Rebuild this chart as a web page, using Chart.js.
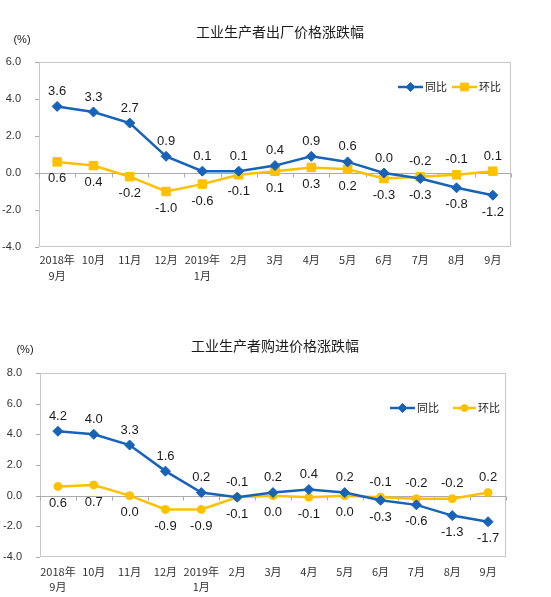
<!DOCTYPE html>
<html>
<head>
<meta charset="utf-8">
<script src="https://cdn.jsdelivr.net/npm/chart.js@4"></script>
<style>
  body { margin: 0; background: #fff; }
  canvas { display: block; }
</style>
</head>
<body>
<canvas id="chartOut" width="551" height="300" style="width:551px;height:300px"></canvas>
<canvas id="chartIn" width="551" height="297" style="width:551px;height:297px"></canvas>
<script>
const categories = [['2018年', '9月'], '10月', '11月', '12月', ['2019年', '1月'], '2月', '3月', '4月', '5月', '6月', '7月', '8月', '9月'];
const seriesNames = ['同比', '环比'];

// 出厂价格
const outYoy = [3.6, 3.3, 2.7, 0.9, 0.1, 0.1, 0.4, 0.9, 0.6, 0.0, -0.3, -0.8, -1.2];
const outMom = [0.6, 0.4, -0.2, -1.0, -0.6, -0.1, 0.1, 0.3, 0.2, -0.3, -0.2, -0.1, 0.1];

// 购进价格
const inYoy = [4.2, 4.0, 3.3, 1.6, 0.2, -0.1, 0.2, 0.4, 0.2, -0.3, -0.6, -1.3, -1.7];
const inMom = [0.6, 0.7, 0.0, -0.9, -0.9, -0.1, 0.0, -0.1, 0.0, -0.1, -0.2, -0.2, 0.2];

const BLUE = '#1763B8';
const GOLD = '#FFC000';
const FONT = '"Liberation Sans", "Noto Sans CJK SC", sans-serif';
const CJK = '"Noto Sans CJK SC", sans-serif';

const decor = {
  id: 'decor',
  beforeDatasetsDraw(chart, args, o) {
    const { ctx, chartArea: a, scales: { x, y } } = chart;
    ctx.save();
    ctx.lineWidth = 1;
    ctx.strokeStyle = '#C8C8C8';
    ctx.strokeRect(a.left + 0.5, a.top + 0.5, a.right - a.left - 1, a.bottom - a.top - 1);

    // zero line + category ticks
    const y0 = Math.round(y.getPixelForValue(0)) + 0.5;
    ctx.strokeStyle = '#ABABAB';
    ctx.beginPath();
    ctx.moveTo(a.left, y0);
    ctx.lineTo(a.right, y0);
    const step = x.getPixelForValue(1) - x.getPixelForValue(0);
    for (let i = 0; i <= categories.length; i++) {
      const bx = Math.round(x.getPixelForValue(i) - step / 2) + 0.5;
      ctx.moveTo(bx, y0);
      ctx.lineTo(bx, y0 + 4);
    }
    // y ticks to the left
    y.ticks.forEach(t => {
      const py = Math.round(y.getPixelForValue(t.value)) + 0.5;
      ctx.moveTo(a.left - 4, py);
      ctx.lineTo(a.left, py);
    });
    ctx.stroke();
    ctx.restore();
  },
  afterDatasetsDraw(chart, args, o) {
    const { ctx } = chart;
    const [d0, d1] = chart.data.datasets;
    const m0 = chart.getDatasetMeta(0).data;
    const m1 = chart.getDatasetMeta(1).data;
    ctx.save();
    ctx.font = '13px ' + FONT;
    ctx.fillStyle = '#1a1a1a';
    ctx.textAlign = 'center';
    ctx.textBaseline = 'middle';
    d0.data.forEach((v, i) => {
      const w = d1.data[i];
      const blueUp = v >= w;
      ctx.fillText(v.toFixed(1), m0[i].x, m0[i].y + (blueUp ? -o.above : o.below));
      ctx.fillText(w.toFixed(1), m1[i].x, m1[i].y + (blueUp ? o.below : -o.above));
    });
    ctx.restore();
  },
  afterDraw(chart, args, o) {
    const { ctx } = chart;
    ctx.save();
    ctx.fillStyle = '#1a1a1a';
    ctx.textBaseline = 'middle';
    ctx.textAlign = 'center';
    ctx.font = '14px ' + CJK;
    ctx.fillText(o.title, o.titleX, o.titleY);
    ctx.font = '11px ' + FONT;
    ctx.fillText('(%)', o.unitX, o.unitY);

    // legend
    ctx.textAlign = 'left';
    ctx.font = '11px ' + CJK;
    chart.data.datasets.forEach((ds, k) => {
      const lg = o.legend[k];
      ctx.strokeStyle = ds.borderColor;
      ctx.fillStyle = ds.backgroundColor;
      ctx.lineWidth = 2.5;
      ctx.beginPath();
      ctx.moveTo(lg.x0, o.legendY);
      ctx.lineTo(lg.x1, o.legendY);
      ctx.stroke();
      ctx.lineWidth = 1;
      Chart.helpers.drawPoint(ctx, {
        pointStyle: ds.pointStyle, radius: ds.pointRadius - 0.5, borderWidth: 1
      }, (lg.x0 + lg.x1) / 2, o.legendY);
      ctx.fillStyle = '#1a1a1a';
      ctx.fillText(ds.label, lg.x1 + 2, o.legendY);
    });
    ctx.restore();
  }
};

function makeChart(id, yoy, mom, cfg) {
  const ctx = document.getElementById(id).getContext('2d');
  return new Chart(ctx, {
    type: 'line',
    data: {
      labels: categories,
      datasets: [
        {
          label: seriesNames[0],
          data: yoy,
          borderColor: BLUE,
          backgroundColor: BLUE,
          borderWidth: 2.5,
          pointStyle: 'rectRot',
          pointRadius: 5,
          pointBorderWidth: 1,
          tension: 0
        },
        {
          label: seriesNames[1],
          data: mom,
          borderColor: GOLD,
          backgroundColor: GOLD,
          borderWidth: 2.5,
          pointStyle: cfg.momPoint,
          pointRadius: cfg.momRadius,
          pointBorderWidth: 1,
          tension: 0
        }
      ]
    },
    options: {
      responsive: false,
      animation: false,
      layout: { padding: { top: cfg.top, right: cfg.right, left: 0, bottom: 0 } },
      scales: {
        x: {
          offset: true,
          grid: { display: false },
          border: { display: false },
          ticks: {
            maxRotation: 0,
            autoSkip: false,
            padding: cfg.xPad,
            color: '#333',
            font: { size: 11, family: CJK, lineHeight: cfg.xLine }
          },
          afterFit(s) { s.height = cfg.xHeight; }
        },
        y: {
          min: -4,
          max: cfg.yMax,
          grid: { display: false },
          border: { display: false },
          ticks: {
            stepSize: 2,
            padding: 10,
            color: '#333',
            font: { size: 11, family: FONT },
            callback: v => v.toFixed(1)
          },
          afterFit(s) { s.width = cfg.left; }
        }
      },
      plugins: {
        legend: { display: false },
        title: { display: false },
        tooltip: { enabled: false },
        decor: {
          title: cfg.title,
          titleX: cfg.titleX, titleY: cfg.titleY,
          unitX: cfg.unitX, unitY: cfg.unitY,
          legendY: cfg.legendY,
          legend: cfg.legend,
          above: 15, below: 17
        }
      }
    },
    plugins: [decor]
  });
}

makeChart('chartOut', outYoy, outMom, {
  title: '工业生产者出厂价格涨跌幅',
  titleX: 280, titleY: 32, unitX: 22, unitY: 40,
  top: 62, right: 40, left: 39, yMax: 6,
  xHeight: 53, xPad: -3, xLine: 1.45,
  momPoint: 'rect', momRadius: 6,
  legendY: 87,
  legend: [{ x0: 398, x1: 423 }, { x0: 452, x1: 477 }]
});

makeChart('chartIn', inYoy, inMom, {
  title: '工业生产者购进价格涨跌幅',
  titleX: 275, titleY: 46, unitX: 25, unitY: 50,
  top: 73, right: 45, left: 40, yMax: 8,
  xHeight: 40, xPad: 0, xLine: 1.3,
  momPoint: 'circle', momRadius: 4,
  legendY: 108,
  legend: [{ x0: 390, x1: 415 }, { x0: 453, x1: 476 }]
});
</script>
</body>
</html>
